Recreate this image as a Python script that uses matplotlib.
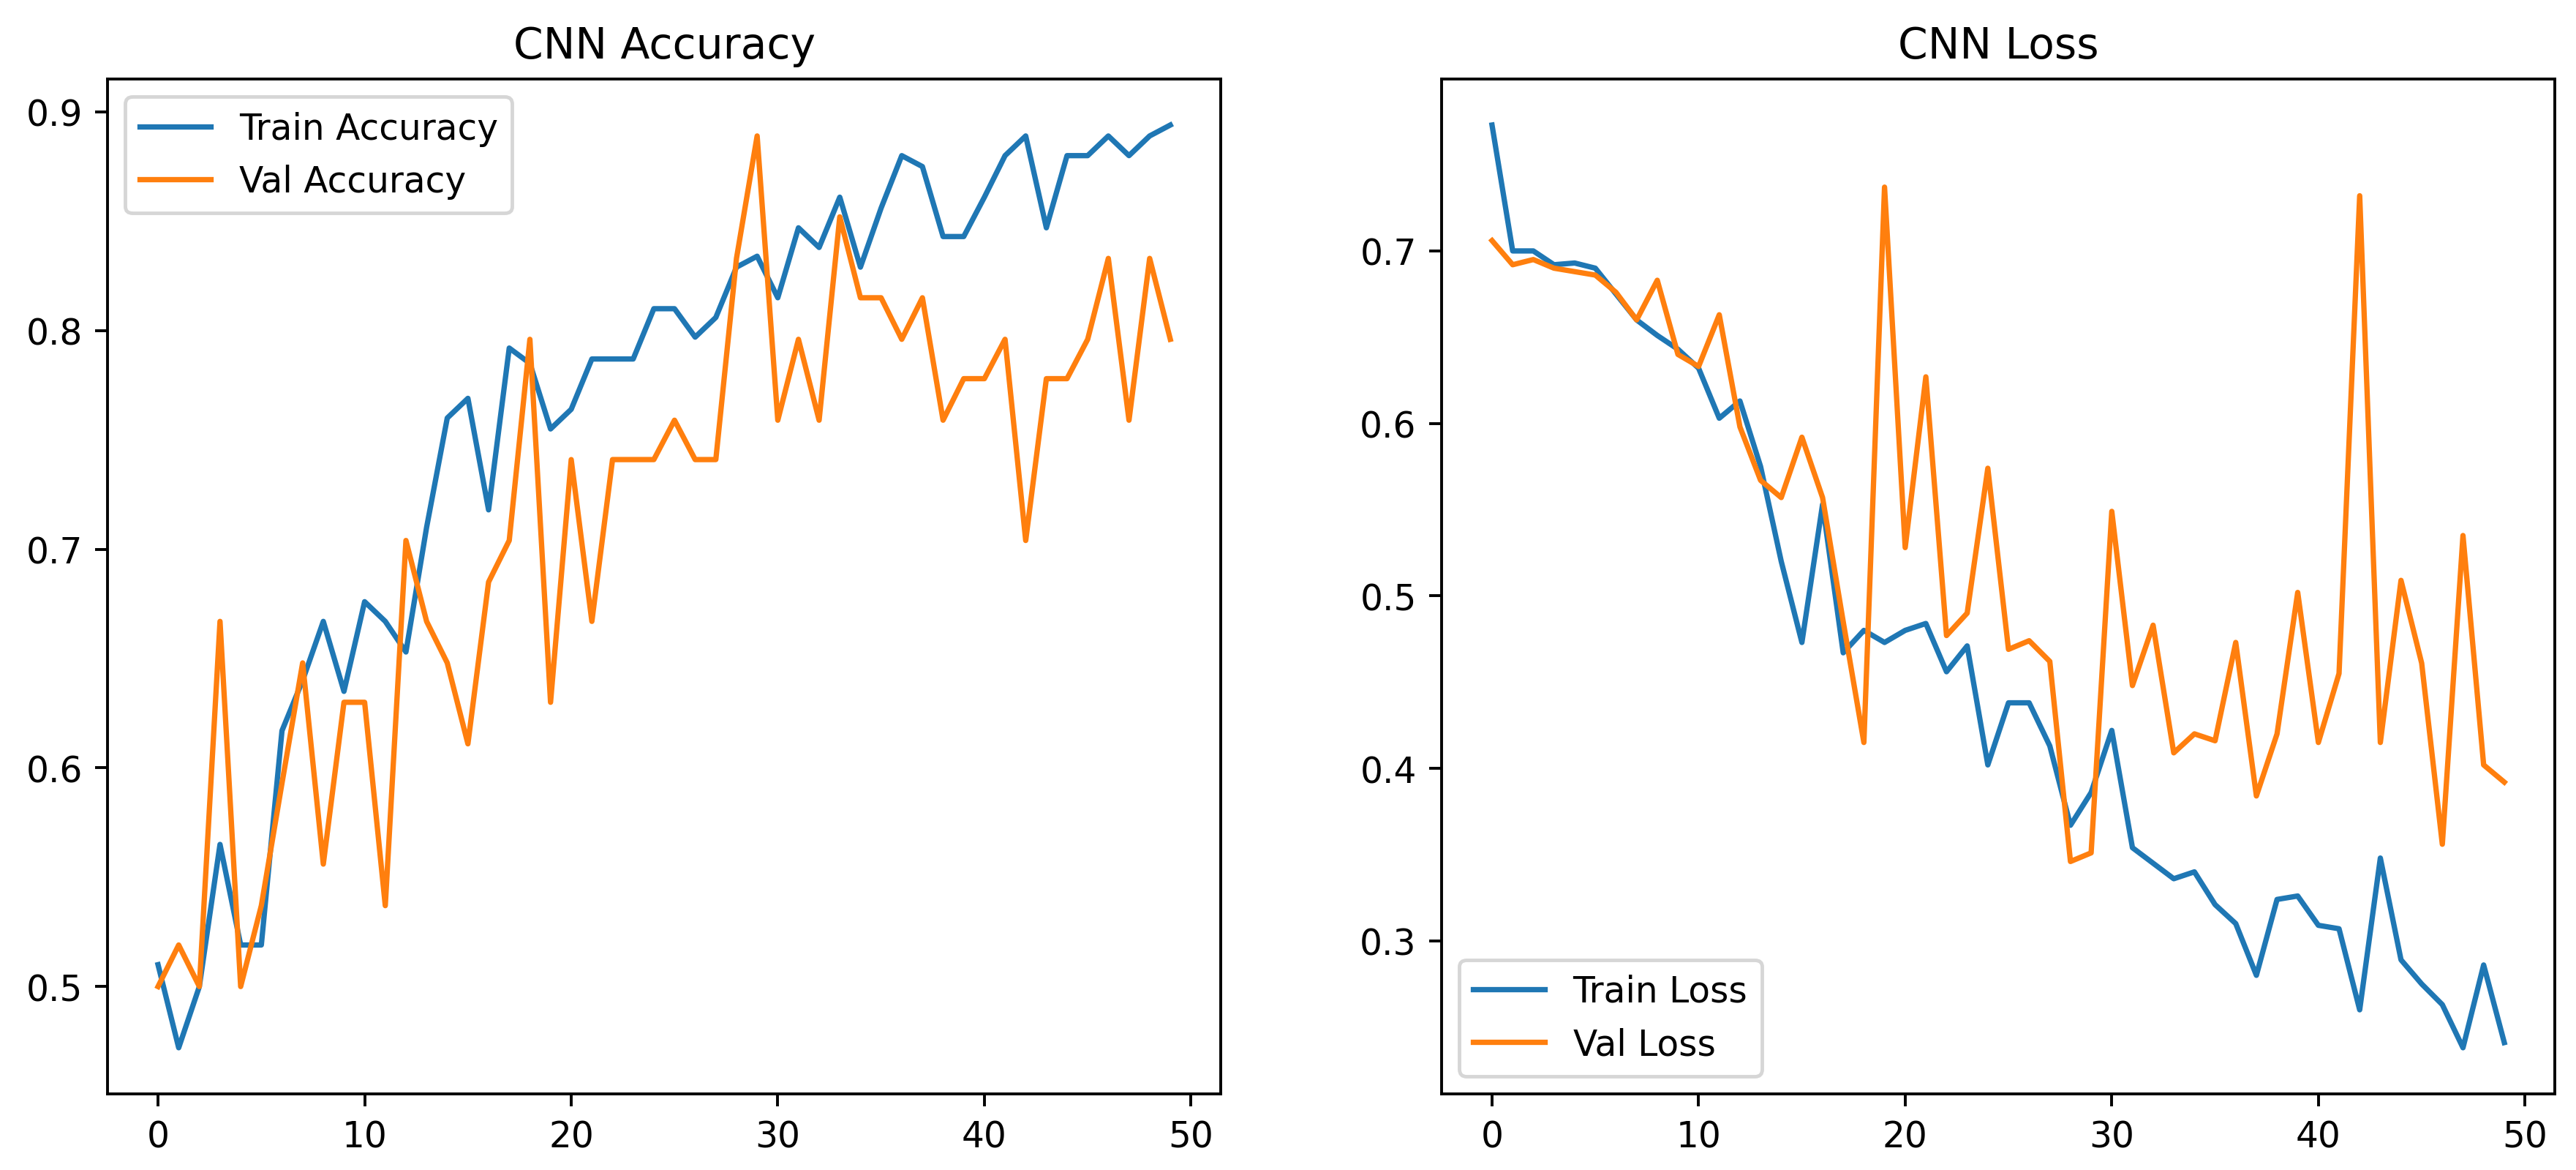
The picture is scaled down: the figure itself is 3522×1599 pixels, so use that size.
import matplotlib
matplotlib.use('Agg')
import matplotlib.pyplot as plt
import numpy as np

# values, one per epoch
train_acc = [0.510, 0.472, 0.500, 0.565, 0.519, 0.519, 0.617, 0.640, 0.667, 0.635,
             0.676, 0.667, 0.653, 0.710, 0.760, 0.769, 0.718, 0.792, 0.785, 0.755,
             0.764, 0.787, 0.787, 0.787, 0.810, 0.810, 0.797, 0.806, 0.829, 0.834,
             0.815, 0.847, 0.838, 0.861, 0.829, 0.856, 0.880, 0.875, 0.843, 0.843,
             0.861, 0.880, 0.889, 0.847, 0.880, 0.880, 0.889, 0.880, 0.889, 0.894]
val_acc = [0.500, 0.519, 0.500, 0.667, 0.500, 0.537, 0.593, 0.648, 0.556, 0.630,
           0.630, 0.537, 0.704, 0.667, 0.648, 0.611, 0.685, 0.704, 0.796, 0.630,
           0.741, 0.667, 0.741, 0.741, 0.741, 0.759, 0.741, 0.741, 0.833, 0.889,
           0.759, 0.796, 0.759, 0.852, 0.815, 0.815, 0.796, 0.815, 0.759, 0.778,
           0.778, 0.796, 0.704, 0.778, 0.778, 0.796, 0.833, 0.759, 0.833, 0.796]
train_loss = [0.773, 0.700, 0.700, 0.692, 0.693, 0.690, 0.675, 0.660, 0.651, 0.643,
              0.632, 0.603, 0.613, 0.575, 0.520, 0.473, 0.553, 0.467, 0.480, 0.473,
              0.480, 0.484, 0.456, 0.471, 0.402, 0.438, 0.438, 0.413, 0.367, 0.386,
              0.422, 0.354, 0.345, 0.336, 0.340, 0.321, 0.310, 0.280, 0.324, 0.326,
              0.309, 0.307, 0.260, 0.348, 0.289, 0.275, 0.263, 0.238, 0.286, 0.241]
val_loss = [0.706, 0.692, 0.695, 0.690, 0.688, 0.686, 0.676, 0.660, 0.683, 0.640,
            0.633, 0.663, 0.598, 0.567, 0.557, 0.592, 0.557, 0.485, 0.415, 0.737,
            0.528, 0.627, 0.477, 0.490, 0.574, 0.469, 0.474, 0.462, 0.346, 0.351,
            0.549, 0.448, 0.483, 0.409, 0.420, 0.416, 0.473, 0.384, 0.420, 0.502,
            0.415, 0.455, 0.732, 0.415, 0.509, 0.461, 0.356, 0.535, 0.402, 0.392]

epochs = np.arange(len(train_acc))

fig, (ax1, ax2) = plt.subplots(1, 2, figsize=(10.063, 4.5714), dpi=350)
fig.subplots_adjust(left=0.0417, right=0.9918, bottom=0.065, top=0.932, wspace=0.198)

ax1.plot(epochs, train_acc, label='Train Accuracy')
ax1.plot(epochs, val_acc, label='Val Accuracy')
ax1.set_title('CNN Accuracy')
ax1.legend(loc='upper left')

ax2.plot(epochs, train_loss, label='Train Loss')
ax2.plot(epochs, val_loss, label='Val Loss')
ax2.set_title('CNN Loss')
ax2.legend(loc='lower left')

fig.savefig('out.png', dpi=350)
